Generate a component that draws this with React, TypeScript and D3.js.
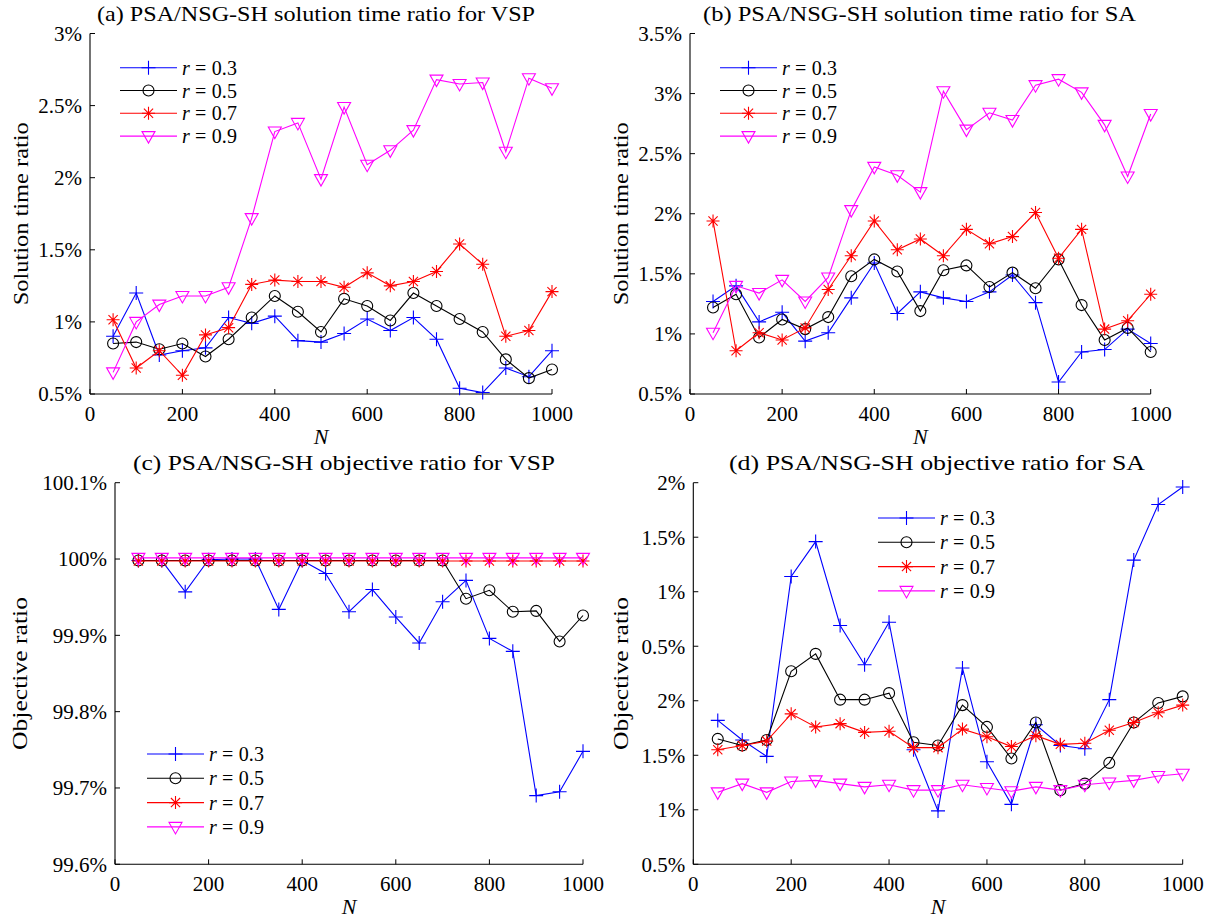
import React, { useEffect, useRef } from 'react';
import * as d3 from 'd3';

// problem sizes on the x axis
const nValues = [50, 100, 150, 200, 250, 300, 350, 400, 450, 500, 550, 600, 650, 700, 750, 800, 850, 900, 950, 1000];
const rLabels = ['0.3', '0.5', '0.7', '0.9'];
const xTicks = [0, 200, 400, 600, 800, 1000];

// (a) solution time ratio, VSP (%)
const aR3 = [0.90, 1.20, 0.77, 0.80, 0.82, 1.03, 0.99, 1.04, 0.87, 0.86, 0.92, 1.02, 0.94, 1.03, 0.88, 0.54, 0.51, 0.68, 0.62, 0.80];
const aR5 = [0.85, 0.86, 0.81, 0.85, 0.76, 0.88, 1.03, 1.18, 1.07, 0.93, 1.16, 1.11, 1.01, 1.20, 1.11, 1.02, 0.93, 0.74, 0.61, 0.67];
const aR7 = [1.015, 0.68, 0.80, 0.63, 0.91, 0.96, 1.26, 1.29, 1.28, 1.28, 1.24, 1.34, 1.25, 1.28, 1.35, 1.54, 1.40, 0.90, 0.94, 1.21];
const aR9 = [0.65, 1.00, 1.12, 1.18, 1.18, 1.24, 1.72, 2.32, 2.38, 1.99, 2.49, 2.09, 2.19, 2.33, 2.68, 2.65, 2.66, 2.18, 2.69, 2.62];
const aTicks = [0.5, 1, 1.5, 2, 2.5, 3];
const aTickLabels = ['0.5%', '1%', '1.5%', '2%', '2.5%', '3%'];

// (b) solution time ratio, SA (%)
const bR3 = [1.27, 1.40, 1.10, 1.18, 0.94, 1.01, 1.30, 1.59, 1.17, 1.35, 1.30, 1.27, 1.35, 1.49, 1.26, 0.60, 0.85, 0.87, 1.04, 0.92];
const bR5 = [1.22, 1.33, 0.97, 1.12, 1.04, 1.14, 1.48, 1.62, 1.52, 1.19, 1.53, 1.57, 1.39, 1.51, 1.38, 1.62, 1.24, 0.95, 1.05, 0.85];
const bR7 = [1.94, 0.86, 1.01, 0.95, 1.05, 1.37, 1.65, 1.94, 1.70, 1.79, 1.65, 1.87, 1.75, 1.81, 2.01, 1.63, 1.87, 1.04, 1.11, 1.33];
const bR9 = [1.01, 1.40, 1.34, 1.45, 1.27, 1.47, 2.03, 2.39, 2.32, 2.18, 3.02, 2.70, 2.84, 2.78, 3.07, 3.12, 3.01, 2.74, 2.31, 2.83];
const bTicks = [0.5, 1, 1.5, 2, 2.5, 3, 3.5];
const bTickLabels = ['0.5%', '1%', '1.5%', '2%', '2.5%', '3%', '3.5%'];

// (c) objective ratio, VSP (%)
const cR3 = [99.998, 99.998, 99.957, 99.999, 100.0, 100.0, 99.934, 99.998, 99.981, 99.931, 99.960, 99.924, 99.890, 99.944, 99.972, 99.896, 99.879, 99.690, 99.695, 99.748];
const cR5 = [99.998, 99.998, 99.998, 99.998, 99.998, 99.998, 99.998, 99.998, 99.998, 99.998, 99.998, 99.998, 99.998, 99.998, 99.948, 99.959, 99.931, 99.932, 99.892, 99.926];
const cR7 = [99.9975, 99.9975, 99.9975, 99.9975, 99.9975, 99.9975, 99.9975, 99.9975, 99.9975, 99.9975, 99.9975, 99.9975, 99.9975, 99.9975, 99.9975, 99.9975, 99.9975, 99.9975, 99.9975, 99.9975];
const cR9 = [100.0015, 100.0015, 100.0015, 100.0015, 100.0015, 100.0015, 100.0015, 100.0015, 100.0015, 100.0015, 100.0015, 100.0015, 100.0015, 100.0015, 100.0015, 100.0015, 100.0015, 100.0015, 100.0015, 100.0015];
const cTicks = [99.6, 99.7, 99.8, 99.9, 100, 100.1];
const cTickLabels = ['99.6%', '99.7%', '99.8%', '99.9%', '100%', '100.1%'];

// (d) objective ratio, SA -- stacked axis units as printed (0.5..2 twice)
const dR3 = [1.82, 1.64, 1.49, 3.14, 3.46, 2.69, 2.33, 2.72, 1.55, 0.99, 2.30, 1.44, 1.05, 1.78, 1.59, 1.56, 2.01, 3.29, 3.80, 3.96];
const dR5 = [1.65, 1.59, 1.64, 2.27, 2.43, 2.01, 2.01, 2.07, 1.62, 1.59, 1.96, 1.76, 1.47, 1.80, 1.18, 1.24, 1.43, 1.80, 1.98, 2.04];
const dR7 = [1.55, 1.59, 1.63, 1.88, 1.76, 1.79, 1.71, 1.72, 1.57, 1.57, 1.74, 1.67, 1.58, 1.68, 1.60, 1.61, 1.73, 1.80, 1.89, 1.96];
const dR9 = [1.16, 1.24, 1.16, 1.26, 1.27, 1.24, 1.21, 1.23, 1.18, 1.18, 1.23, 1.20, 1.17, 1.21, 1.18, 1.23, 1.25, 1.27, 1.31, 1.33];
const dTicks = [0.5, 1, 1.5, 2, 2.5, 3, 3.5, 4];
const dTickLabels = ['0.5%', '1%', '1.5%', '2%', '0.5%', '1%', '1.5%', '2%'];

const colors = ['#0000ff', '#000000', '#ff0000', '#ff00ff'];
const markers = ['plus', 'circle', 'star', 'tri'];
const FONT = '"Liberation Serif", "DejaVu Serif", serif';

const drawMarker = (g, type, x, y, color) => {
  if (type === 'plus') {
    g.append('path').attr('d', `M${x - 7},${y}H${x + 7}M${x},${y - 7}V${y + 7}`)
      .attr('stroke', color).attr('stroke-width', 1.1).attr('fill', 'none');
  } else if (type === 'circle') {
    g.append('circle').attr('cx', x).attr('cy', y).attr('r', 5.5)
      .attr('stroke', color).attr('stroke-width', 1.1).attr('fill', 'none');
  } else if (type === 'star') {
    const s = 6.5, k = 4.6;
    g.append('path').attr('d', `M${x - s},${y}H${x + s}M${x},${y - s}V${y + s}M${x - k},${y - k}L${x + k},${y + k}M${x - k},${y + k}L${x + k},${y - k}`)
      .attr('stroke', color).attr('stroke-width', 1.1).attr('fill', 'none');
  } else {
    g.append('path').attr('d', `M${x - 6.5},${y - 4.5}L${x + 6.5},${y - 4.5}L${x},${y + 7}Z`)
      .attr('stroke', color).attr('stroke-width', 1.1).attr('fill', 'none');
  }
};

const drawPanel = (svg, p) => {
  const x = d3.scaleLinear().domain([0, 1000]).range([p.x0, p.x1]);
  const y = d3.scaleLinear().domain(p.yDomain).range([p.yBot, p.yTop]);
  const g = svg.append('g');

  // axes (left and bottom only, ticks pointing inward)
  g.append('line').attr('x1', p.x0).attr('x2', p.x0).attr('y1', p.yTop).attr('y2', p.yBot).attr('stroke', '#000').attr('stroke-width', 1.1);
  g.append('line').attr('x1', p.x0).attr('x2', p.x1).attr('y1', p.yBot).attr('y2', p.yBot).attr('stroke', '#000').attr('stroke-width', 1.1);

  xTicks.forEach(t => {
    g.append('line').attr('x1', x(t)).attr('x2', x(t)).attr('y1', p.yBot).attr('y2', p.yBot - 5).attr('stroke', '#000');
    g.append('text').attr('x', x(t)).attr('y', p.yBot + 27).attr('text-anchor', 'middle')
      .attr('font-family', FONT).attr('font-size', 21).text(t);
  });
  p.yTicks.forEach((t, i) => {
    g.append('line').attr('x1', p.x0).attr('x2', p.x0 + 5).attr('y1', y(t)).attr('y2', y(t)).attr('stroke', '#000');
    g.append('text').attr('x', p.x0 - 8).attr('y', y(t)).attr('dy', '0.35em').attr('text-anchor', 'end')
      .attr('font-family', FONT).attr('font-size', 21).text(p.yTickLabels[i]);
  });

  g.append('text').attr('x', p.titleX).attr('y', p.yTop - 13).attr('text-anchor', 'middle')
    .attr('font-family', FONT).attr('font-size', 21)
    .attr('textLength', p.titleW).attr('lengthAdjust', 'spacingAndGlyphs').text(p.title);
  g.append('text').attr('x', (p.x0 + p.x1) / 2).attr('y', p.yBot + 50).attr('text-anchor', 'middle')
    .attr('font-family', FONT).attr('font-style', 'italic').attr('font-size', 22).text('N');
  g.append('text').attr('transform', `translate(${p.ylabelX},${(p.yTop + p.yBot) / 2}) rotate(-90)`)
    .attr('text-anchor', 'middle').attr('dy', '0.35em')
    .attr('font-family', FONT).attr('font-size', 22)
    .attr('textLength', p.ylabelW).attr('lengthAdjust', 'spacingAndGlyphs').text(p.ylabel);

  const line = d3.line().x((d, i) => x(nValues[i])).y(d => y(d));
  p.series.forEach((vals, si) => {
    g.append('path').datum(vals).attr('d', line).attr('fill', 'none')
      .attr('stroke', colors[si]).attr('stroke-width', 1.1);
    vals.forEach((v, i) => drawMarker(g, markers[si], x(nValues[i]), y(v), colors[si]));
  });

  // legend
  rLabels.forEach((r, i) => {
    const ly = p.legY + i * p.legDy;
    g.append('line').attr('x1', p.legX).attr('x2', p.legX + 57).attr('y1', ly).attr('y2', ly)
      .attr('stroke', colors[i]).attr('stroke-width', 1.1);
    drawMarker(g, markers[i], p.legX + 28.5, ly, colors[i]);
    const t = g.append('text').attr('x', p.legX + 62).attr('y', ly).attr('dy', '0.35em')
      .attr('font-family', FONT).attr('font-size', 20)
      .attr('textLength', 55).attr('lengthAdjust', 'spacing');
    t.append('tspan').attr('font-style', 'italic').text('r');
    t.append('tspan').text(` = ${r}`);
  });
};

const App = () => {
  const ref = useRef(null);

  useEffect(() => {
    document.body.style.margin = '0';
    const svg = d3.select(ref.current);
    svg.selectAll('*').remove();
    svg.append('rect').attr('width', 1211).attr('height', 923).attr('fill', '#fff');

    drawPanel(svg, {
      x0: 90, x1: 552, yTop: 33.5, yBot: 394, yDomain: [0.5, 3],
      yTicks: aTicks, yTickLabels: aTickLabels, ylabelX: 20, ylabelW: 183,
      title: '(a) PSA/NSG-SH solution time ratio for VSP', titleX: 316, titleW: 438,
      ylabel: 'Solution time ratio',
      series: [aR3, aR5, aR7, aR9], legX: 120, legY: 67.7, legDy: 22.8,
    });
    drawPanel(svg, {
      x0: 690, x1: 1150.7, yTop: 33.5, yBot: 394, yDomain: [0.5, 3.5],
      yTicks: bTicks, yTickLabels: bTickLabels, ylabelX: 620, ylabelW: 183,
      title: '(b) PSA/NSG-SH solution time ratio for SA', titleX: 919.5, titleW: 433,
      ylabel: 'Solution time ratio',
      series: [bR3, bR5, bR7, bR9], legX: 720, legY: 67.7, legDy: 22.8,
    });
    drawPanel(svg, {
      x0: 115, x1: 583, yTop: 482.7, yBot: 864.3, yDomain: [99.6, 100.1],
      yTicks: cTicks, yTickLabels: cTickLabels, ylabelX: 19, ylabelW: 153,
      title: '(c) PSA/NSG-SH objective ratio for VSP', titleX: 344, titleW: 422,
      ylabel: 'Objective ratio',
      series: [cR3, cR5, cR7, cR9], legX: 147, legY: 754, legDy: 24.3,
    });
    drawPanel(svg, {
      x0: 693.3, x1: 1182.7, yTop: 482.7, yBot: 864.3, yDomain: [0.5, 4],
      yTicks: dTicks, yTickLabels: dTickLabels, ylabelX: 620, ylabelW: 153,
      title: '(d) PSA/NSG-SH objective ratio for SA', titleX: 937, titleW: 416,
      ylabel: 'Objective ratio',
      series: [dR3, dR5, dR7, dR9], legX: 878, legY: 518, legDy: 24.3,
    });
  }, []);

  return <svg ref={ref} width={1211} height={923} style={{ display: 'block' }} />;
};

export default App;
